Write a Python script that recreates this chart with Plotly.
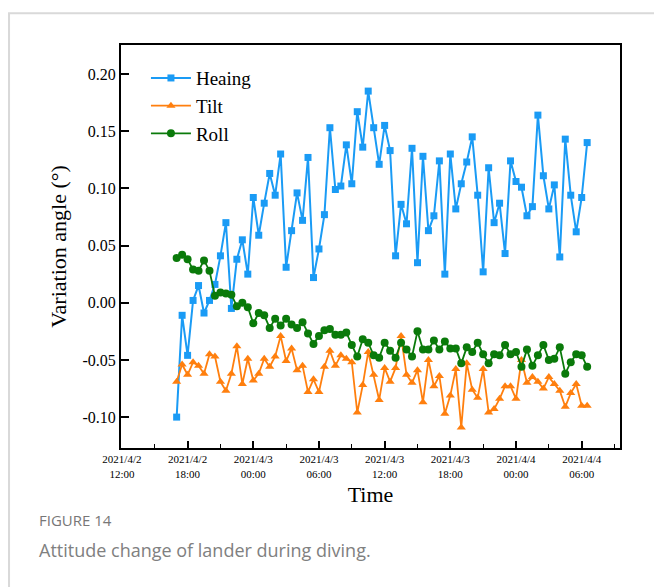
import pandas as pd
import plotly.graph_objects as go

# ---- data ----
start_time = "2021-04-02 17:00"
n_points = 76
times = pd.date_range(start=start_time, periods=n_points, freq="30min")

heaing = [-0.100, -0.011, -0.046, 0.002, 0.015, -0.009, 0.002, 0.016, 0.041, 0.070,
          -0.005, 0.038, 0.055, 0.025, 0.092, 0.059, 0.087, 0.113, 0.094, 0.130,
          0.031, 0.063, 0.096, 0.072, 0.127, 0.022, 0.047, 0.077, 0.153, 0.099,
          0.102, 0.138, 0.104, 0.167, 0.136, 0.185, 0.153, 0.121, 0.155, 0.133,
          0.041, 0.086, 0.069, 0.135, 0.035, 0.128, 0.063, 0.076, 0.124, 0.025,
          0.130, 0.082, 0.104, 0.123, 0.145, 0.094, 0.027, 0.118, 0.070, 0.087,
          0.043, 0.124, 0.106, 0.101, 0.076, 0.084, 0.164, 0.111, 0.082, 0.103,
          0.040, 0.143, 0.094, 0.062, 0.092, 0.140]

tilt = [-0.069, -0.054, -0.063, -0.052, -0.055, -0.062, -0.045, -0.047, -0.069, -0.077,
        -0.062, -0.038, -0.071, -0.049, -0.068, -0.062, -0.049, -0.056, -0.047, -0.029,
        -0.051, -0.040, -0.059, -0.055, -0.078, -0.067, -0.078, -0.056, -0.042, -0.055,
        -0.046, -0.049, -0.052, -0.096, -0.072, -0.043, -0.063, -0.085, -0.057, -0.069,
        -0.057, -0.029, -0.063, -0.070, -0.059, -0.087, -0.050, -0.073, -0.064, -0.097,
        -0.081, -0.058, -0.109, -0.053, -0.076, -0.083, -0.058, -0.096, -0.093, -0.084,
        -0.073, -0.073, -0.084, -0.050, -0.070, -0.065, -0.069, -0.075, -0.065, -0.071,
        -0.077, -0.091, -0.079, -0.071, -0.090, -0.090]

roll = [0.039, 0.042, 0.038, 0.029, 0.028, 0.037, 0.028, 0.006, 0.009, 0.008,
        0.007, -0.003, 0.000, -0.004, -0.018, -0.009, -0.011, -0.022, -0.014, -0.020,
        -0.014, -0.019, -0.022, -0.017, -0.027, -0.036, -0.029, -0.024, -0.023, -0.028,
        -0.028, -0.026, -0.037, -0.047, -0.032, -0.035, -0.046, -0.048, -0.035, -0.042,
        -0.048, -0.035, -0.041, -0.047, -0.025, -0.041, -0.041, -0.033, -0.041, -0.034,
        -0.040, -0.040, -0.053, -0.039, -0.043, -0.035, -0.045, -0.053, -0.045, -0.046,
        -0.037, -0.045, -0.043, -0.056, -0.041, -0.055, -0.046, -0.037, -0.050, -0.049,
        -0.039, -0.062, -0.052, -0.045, -0.046, -0.056]

series_names = ["Heaing", "Tilt", "Roll"]

x_tick_vals = ["2021-04-02 12:00", "2021-04-02 18:00", "2021-04-03 00:00", "2021-04-03 06:00",
               "2021-04-03 12:00", "2021-04-03 18:00", "2021-04-04 00:00", "2021-04-04 06:00"]
x_tick_text = ["2021/4/2<br>12:00", "2021/4/2<br>18:00", "2021/4/3<br>00:00", "2021/4/3<br>06:00",
               "2021/4/3<br>12:00", "2021/4/3<br>18:00", "2021/4/4<br>00:00", "2021/4/4<br>06:00"]
y_tick_vals = [0.20, 0.15, 0.10, 0.05, 0.00, -0.05, -0.10]
y_tick_text = ["0.20", "0.15", "0.10", "0.05", "0.00", "-0.05", "-0.10"]

# ---- figure ----
SERIF = "Liberation Serif, Times New Roman, serif"
SANS = "Open Sans, Noto Sans, sans-serif"
fig = go.Figure()
fig.add_trace(go.Scatter(x=times, y=heaing, name=series_names[0], mode="lines+markers",
                         line=dict(color="#1A9BF5", width=2),
                         marker=dict(symbol="square", size=7, color="#1A9BF5")))
fig.add_trace(go.Scatter(x=times, y=tilt, name=series_names[1], mode="lines+markers",
                         line=dict(color="#FF7F0E", width=1.8),
                         marker=dict(symbol="triangle-up", size=8, color="#FF7F0E")))
fig.add_trace(go.Scatter(x=times, y=roll, name=series_names[2], mode="lines+markers",
                         line=dict(color="#0A7A0A", width=1.8),
                         marker=dict(symbol="circle", size=8, color="#0A7A0A")))

fig.update_layout(
    width=654, height=579,
    margin=dict(l=113, r=42, t=37, b=139),
    paper_bgcolor="white", plot_bgcolor="white",
    font=dict(family=SERIF, color="black"),
    showlegend=True,
    legend=dict(x=0.05, y=0.965, xanchor="left", yanchor="top",
                font=dict(family=SERIF, size=19), bgcolor="rgba(0,0,0,0)",
                tracegroupgap=0, itemwidth=40),
    xaxis=dict(
        range=["2021-04-02 11:55", "2021-04-04 09:30"],
        tickvals=x_tick_vals, ticktext=x_tick_text,
        tickfont=dict(family=SERIF, size=11),
        ticks="inside", ticklen=7, tickwidth=1.5, tickcolor="black",
        minor=dict(ticks="inside", ticklen=4, dtick=3 * 3600 * 1000,
                   tick0="2021-04-02 12:00", tickcolor="black", tickwidth=1.2),
        showline=True, linecolor="black", linewidth=2, mirror=True,
        showgrid=False, zeroline=False,
        title=dict(text="Time", font=dict(family=SERIF, size=22), standoff=8),
    ),
    yaxis=dict(
        range=[-0.127, 0.2253],
        tickvals=y_tick_vals, ticktext=y_tick_text,
        tickfont=dict(family=SERIF, size=16),
        ticks="inside", ticklen=8, tickwidth=1.5, tickcolor="black",
        showline=True, linecolor="black", linewidth=2, mirror=True,
        showgrid=False, zeroline=False,
        title=dict(text="Variation angle (°)", font=dict(family=SERIF, size=22), standoff=10),
    ),
)

# outer card border and caption
fig.add_shape(type="rect", xref="paper", yref="paper",
              x0=-0.2244, x1=1.2, y0=-0.5, y1=1.079,
              line=dict(color="#d9d9d9", width=2), fillcolor="rgba(0,0,0,0)", layer="below")
fig.add_annotation(xref="paper", yref="paper", x=-0.168, y=-0.178, xanchor="left", yanchor="middle",
                   text="FIGURE 14", showarrow=False,
                   font=dict(family=SANS, size=15, color="#777777"))
fig.add_annotation(xref="paper", yref="paper", x=-0.168, y=-0.253, xanchor="left", yanchor="middle",
                   text="Attitude change of lander during diving.", showarrow=False,
                   font=dict(family=SANS, size=18, color="#808080"))

fig.write_html("out.html")
